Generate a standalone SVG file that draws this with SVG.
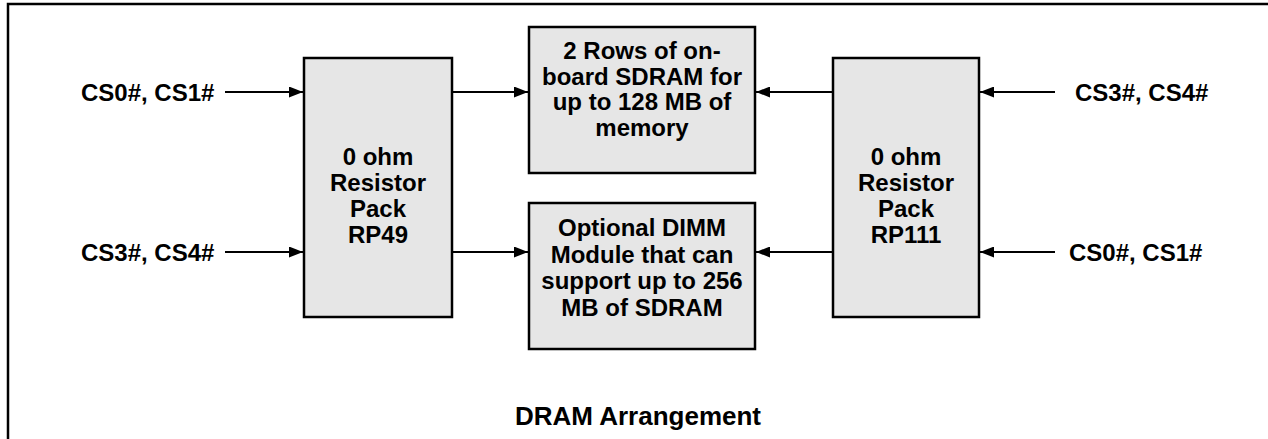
<svg xmlns="http://www.w3.org/2000/svg" width="1268" height="439" viewBox="0 0 1268 439">
<defs>
<style>
.box{fill:#e6e6e6;stroke:#000;stroke-width:2.5}
.t{font-family:"Liberation Sans",Arial,sans-serif;font-weight:bold;font-size:24px;fill:#000}
.c{text-anchor:middle}
.ln{stroke:#000;stroke-width:2;fill:none;marker-end:url(#ah)}
</style>
<marker id="ah" viewBox="0 0 14 11" refX="14" refY="5.5" markerWidth="14" markerHeight="11" markerUnits="userSpaceOnUse" orient="auto">
<path d="M0,0 L14,5.5 L0,11 Z" fill="#000"/>
</marker>
</defs>
<rect width="1268" height="439" fill="#fff"/>
<path d="M8,439 V4 H1268" fill="none" stroke="#000" stroke-width="2.5"/>
<g id="rp49">
<rect class="box" x="304" y="58" width="148" height="259"/>
<text class="t c"><tspan x="378" y="165">0 ohm</tspan><tspan x="378" y="191">Resistor</tspan><tspan x="378" y="217">Pack</tspan><tspan x="378" y="243">RP49</tspan></text>
</g>
<g id="sdram">
<rect class="box" x="529" y="27" width="226" height="146"/>
<text class="t c"><tspan x="642" y="59">2 Rows of on-</tspan><tspan x="642" y="84.5">board SDRAM for</tspan><tspan x="642" y="110">up to 128 MB of</tspan><tspan x="642" y="135.5">memory</tspan></text>
</g>
<g id="dimm">
<rect class="box" x="529" y="203" width="226" height="146"/>
<text class="t c"><tspan x="642" y="236">Optional DIMM</tspan><tspan x="642" y="262.5">Module that can</tspan><tspan x="642" y="289">support up to 256</tspan><tspan x="642" y="315.5">MB of SDRAM</tspan></text>
</g>
<g id="rp111">
<rect class="box" x="833" y="58" width="146" height="259"/>
<text class="t c"><tspan x="906" y="165">0 ohm</tspan><tspan x="906" y="191">Resistor</tspan><tspan x="906" y="217">Pack</tspan><tspan x="906" y="243">RP111</tspan></text>
</g>
<g id="labels">
<text class="t" x="81" y="101">CS0#, CS1#</text>
<text class="t" x="81" y="261">CS3#, CS4#</text>
<text class="t" x="1075" y="101">CS3#, CS4#</text>
<text class="t" x="1069" y="261">CS0#, CS1#</text>
<text class="t c" x="638" y="425" style="font-size:26px">DRAM Arrangement</text>
</g>
<g id="connectors">
<line class="ln" x1="225" y1="92" x2="303" y2="92"/>
<line class="ln" x1="225" y1="252" x2="303" y2="252"/>
<line class="ln" x1="453" y1="92" x2="528" y2="92"/>
<line class="ln" x1="453" y1="252" x2="528" y2="252"/>
<line class="ln" x1="832" y1="92" x2="756" y2="92"/>
<line class="ln" x1="832" y1="252" x2="756" y2="252"/>
<line class="ln" x1="1055" y1="92" x2="980" y2="92"/>
<line class="ln" x1="1055" y1="252" x2="980" y2="252"/>
</g>
</svg>
